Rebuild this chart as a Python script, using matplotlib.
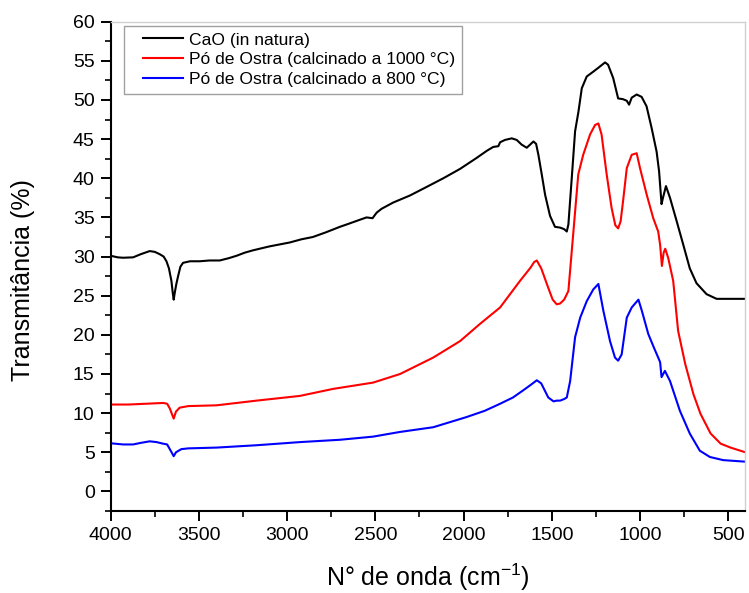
import matplotlib
matplotlib.use("Agg")
import matplotlib.pyplot as plt
from matplotlib.ticker import MultipleLocator, FixedLocator
from matplotlib.legend_handler import HandlerLine2D

plt.rcParams['font.family'] = ['Liberation Sans', 'DejaVu Sans']
plt.rcParams['mathtext.fontset'] = 'custom'
plt.rcParams['mathtext.rm'] = 'Liberation Sans'

# ---- data (wavenumber cm^-1, transmittance %) ----
cao_x = [4000, 3960, 3930, 3873, 3830, 3779, 3750, 3722, 3700, 3684, 3670, 3656, 3648, 3643,
         3636, 3628, 3618, 3605, 3590, 3550, 3495, 3440, 3382, 3330, 3287, 3240, 3193, 3100,
         2985, 2920, 2854, 2780, 2701, 2650, 2588, 2550, 2516, 2493, 2465, 2399, 2304, 2209,
         2115, 2020, 1926, 1869, 1832, 1803, 1793, 1765, 1727, 1699, 1671, 1642, 1623, 1604,
         1589, 1576, 1557, 1538, 1510, 1482, 1453, 1430, 1415, 1406, 1387, 1368, 1349, 1330,
         1302, 1266, 1237, 1198, 1181, 1152, 1124, 1096, 1075, 1062, 1047, 1019, 991, 963,
         934, 906, 892, 878, 870, 853, 830, 792, 756, 718, 680, 623, 566, 500, 400]
cao_y = [30.1, 29.9, 29.85, 29.9, 30.3, 30.7, 30.6, 30.3, 30.0, 29.4, 28.5, 26.9, 25.3, 24.5,
         25.5, 26.5, 27.5, 28.7, 29.2, 29.4, 29.4, 29.5, 29.5, 29.8, 30.1, 30.5, 30.8, 31.3,
         31.8, 32.2, 32.5, 33.1, 33.8, 34.2, 34.7, 35.0, 34.9, 35.6, 36.1, 36.9, 37.8, 38.9,
         40.0, 41.2, 42.6, 43.5, 44.0, 44.1, 44.6, 44.9, 45.1, 44.9, 44.3, 43.9, 44.3, 44.7,
         44.4, 43.0, 40.5, 37.9, 35.2, 33.8, 33.7, 33.5, 33.2, 34.1, 40.0, 46.0, 48.5, 51.5,
         53.0, 53.6, 54.1, 54.8, 54.5, 52.8, 50.2, 50.1, 49.9, 49.4, 50.3, 50.7, 50.4, 49.2,
         46.4, 43.4, 40.9, 36.7, 37.5, 39.0, 37.5, 34.5, 31.6, 28.5, 26.6, 25.2, 24.6, 24.6, 24.6]

p1000_x = [4000, 3900, 3800, 3703, 3680, 3665, 3655, 3643, 3630, 3609, 3560, 3400, 3173, 2928,
           2739, 2513, 2360, 2172, 2020, 1907, 1793, 1680, 1620, 1600, 1585, 1560, 1520, 1495,
           1472, 1453, 1430, 1406, 1379, 1350, 1322, 1283, 1255, 1236, 1218, 1189, 1161, 1140,
           1124, 1110, 1096, 1075, 1047, 1019, 1000, 962, 925, 897, 886, 876, 866, 857, 840,
           812, 784, 744, 697, 657, 600, 543, 487, 403]
p1000_y = [11.1, 11.1, 11.2, 11.3, 11.2, 10.6, 10.0, 9.3, 10.2, 10.7, 10.9, 11.0, 11.6, 12.2,
           13.1, 13.9, 15.0, 17.1, 19.2, 21.4, 23.5, 26.9, 28.6, 29.3, 29.5, 28.5, 26.0, 24.5,
           23.9, 24.0, 24.5, 25.6, 32.8, 40.5, 43.0, 45.6, 46.8, 47.0, 45.6, 40.5, 36.2, 34.0,
           33.6, 34.5, 37.1, 41.3, 43.0, 43.2, 41.3, 37.9, 34.9, 33.2, 31.5, 28.8, 30.5, 31.0, 29.8,
           26.9, 20.5, 16.3, 12.4, 9.9, 7.4, 6.1, 5.6, 5.0]

p800_x = [4000, 3930, 3873, 3830, 3779, 3740, 3703, 3680, 3665, 3655, 3643, 3630, 3600, 3560,
          3400, 3173, 2928, 2700, 2513, 2360, 2172, 1983, 1880, 1793, 1720, 1663, 1620, 1585,
          1560, 1520, 1490, 1472, 1453, 1430, 1415, 1396, 1368, 1339, 1302, 1265, 1236, 1208,
          1170, 1142, 1124, 1104, 1075, 1047, 1009, 990, 953, 920, 897, 886, 878, 859, 830,
          774, 718, 661, 604, 529, 403]
p800_y = [6.15, 6.0, 6.0, 6.2, 6.4, 6.3, 6.1, 6.0, 5.4, 5.0, 4.5, 5.0, 5.4, 5.5,
          5.6, 5.9, 6.3, 6.6, 7.0, 7.6, 8.2, 9.5, 10.3, 11.2, 12.0, 12.9, 13.6, 14.2,
          13.8, 12.0, 11.5, 11.6, 11.6, 11.8, 12.0, 14.1, 19.7, 22.2, 24.3, 25.8, 26.5, 23.1,
          19.2, 17.1, 16.7, 17.5, 22.2, 23.5, 24.5, 23.1, 20.1, 18.3, 17.1, 16.5, 14.6, 15.4, 14.1,
          10.3, 7.4, 5.2, 4.4, 4.0, 3.8]

labels = ["CaO (in natura)",
          "Pó de Ostra (calcinado a 1000 °C)",
          "Pó de Ostra (calcinado a 800 °C)"]
colors = ["#000000", "#ff0000", "#0000ff"]

x_major = [4000, 3500, 3000, 2500, 2000, 1500, 1000, 500]
y_major = [0, 5, 10, 15, 20, 25, 30, 35, 40, 45, 50, 55, 60]


class OffsetLineHandler(HandlerLine2D):
    """Legend line that starts a bit to the right (extra left padding)."""
    def __init__(self, offset_frac=0.25, **kw):
        super().__init__(**kw)
        self.offset_frac = offset_frac

    def get_xdata(self, legend, xdescent, ydescent, width, height, fontsize):
        x0 = -xdescent + self.offset_frac * width
        x1 = -xdescent + width
        return [x0, x1], [(x0 + x1) / 2]


# ---- figure ----
fig = plt.figure(figsize=(7.49, 5.93), dpi=100)
ax = fig.add_axes([110.7/749, (593-511)/593, (745-110.7)/749, (511-21.7)/593])

series = [(cao_x, cao_y), (p1000_x, p1000_y), (p800_x, p800_y)]
lines = []
for (xs, ys), lab, c in zip(series, labels, colors):
    ln, = ax.plot(xs, ys, color=c, lw=1.5, label=lab)
    lines.append(ln)

ax.set_xlim(4000, 405)
ax.set_ylim(-2.5, 60)
ax.xaxis.set_major_locator(FixedLocator(x_major))
ax.xaxis.set_minor_locator(MultipleLocator(250))
ax.yaxis.set_major_locator(FixedLocator(y_major))
ax.yaxis.set_minor_locator(MultipleLocator(2.5))

for s in ['top', 'right']:
    ax.spines[s].set_color('#d0d0d0')
    ax.spines[s].set_linewidth(1.0)
for s in ['left', 'bottom']:
    ax.spines[s].set_color('black')
    ax.spines[s].set_linewidth(1.5)

ax.tick_params(which='major', direction='out', length=7, width=1.4, labelsize=14, pad=4.5)
ax.tick_params(which='minor', direction='out', length=4, width=1.2)
ax.tick_params(top=False, right=False, which='both')

ax.set_xlabel(r"N° de onda (cm$\mathregular{^{-1}}$)", fontsize=18)
ax.set_ylabel("Transmitância (%)", fontsize=18)
ax.xaxis.set_label_coords(0.5, -0.104)
ax.yaxis.set_label_coords(-0.119, 0.471)

handler = OffsetLineHandler(offset_frac=0.23)
leg = ax.legend(handles=lines, loc='upper left', bbox_to_anchor=(0.0213, 0.992),
                borderaxespad=0, fontsize=12.6, frameon=True, fancybox=False,
                handlelength=3.0, handletextpad=0.3, labelspacing=0.26, borderpad=0.38,
                handler_map={ln: handler for ln in lines})
leg.get_frame().set_edgecolor('#888888')
leg.get_frame().set_linewidth(1.0)

fig.savefig("out.png", dpi=100)
